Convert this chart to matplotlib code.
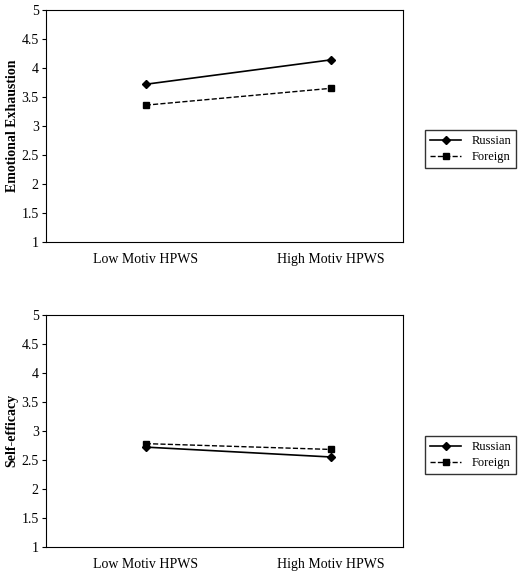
import matplotlib.pyplot as plt

plt.rcParams['font.family'] = ['Liberation Serif', 'DejaVu Serif']

categories = ['Low Motiv HPWS', 'High Motiv HPWS']
exh_russian = [3.72, 4.14]
exh_foreign = [3.36, 3.65]
eff_russian = [2.72, 2.55]
eff_foreign = [2.78, 2.68]
yticks = [1, 1.5, 2, 2.5, 3, 3.5, 4, 4.5, 5]

fig = plt.figure(figsize=(5.2, 5.85), dpi=100)
ax1 = fig.add_axes([0.088, 0.586, 0.687, 0.397])
ax2 = fig.add_axes([0.088, 0.065, 0.687, 0.397])

panels = [(ax1, exh_russian, exh_foreign, 'Emotional Exhaustion', 0.745),
          (ax2, eff_russian, eff_foreign, 'Self-efficacy', 0.222)]
for ax, rus, forg, ylab, legy in panels:
    x = range(len(categories))
    l1, = ax.plot(x, rus, color='black', lw=1.2, marker='D', ms=4, label='Russian')
    l2, = ax.plot(x, forg, color='black', lw=1.0, ls='--', marker='s', ms=5, label='Foreign')
    ax.set_xlim(-0.54, 1.39)
    ax.set_ylim(1, 5)
    ax.set_yticks(yticks)
    ax.set_yticklabels([f'{t:g}' for t in yticks])
    ax.set_xticks(list(x))
    ax.set_xticklabels(categories)
    ax.tick_params(axis='x', length=0, labelsize=10, pad=8)
    ax.tick_params(axis='y', labelsize=10, length=3, pad=2)
    ax.set_ylabel(ylab, fontweight='bold', fontsize=10, labelpad=2)
    for s in ax.spines.values():
        s.set_linewidth(0.8)
    fig.legend(handles=[l1, l2], loc='center', bbox_to_anchor=(0.905, legy),
               frameon=True, fancybox=False, edgecolor='black', fontsize=9,
               handlelength=2.5, borderpad=0.4, labelspacing=0.3)

fig.savefig('out.png', dpi=100)
